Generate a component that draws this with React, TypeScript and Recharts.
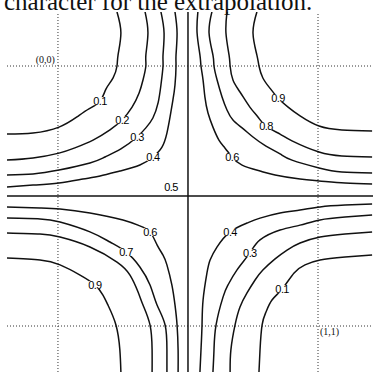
import { LineChart, Line, XAxis, YAxis, ReferenceLine, ReferenceDot, LabelList } from 'recharts';

// Contour levels of the interpolated surface; 0.5 is the cross through the centre.
const levels = [0.1, 0.2, 0.3, 0.4, 0.6, 0.7, 0.8, 0.9];
const crossLevel = 0.5;

// Branches in unit-square coordinates: (0,0) is the upper-left corner, (1,1) the lower-right.
// upper-left branches
const ul1 = [[0.227, -0.208], [0.242, -0.127], [0.231, -0.042], [0.227, 0], [0.212, 0.046], [0.185, 0.088], [0.162, 0.135], [0.119, 0.165], [0.073, 0.196], [0.004, 0.235], [-0.096, 0.258], [-0.196, 0.262]];
const ul2 = [[0.335, -0.208], [0.346, -0.127], [0.338, -0.042], [0.338, 0], [0.327, 0.054], [0.312, 0.104], [0.285, 0.158], [0.246, 0.208], [0.2, 0.246], [0.135, 0.285], [0.065, 0.315], [0.004, 0.335], [-0.096, 0.354], [-0.196, 0.362]];
const ul3 = [[0.396, -0.208], [0.408, -0.127], [0.404, -0.042], [0.404, 0], [0.396, 0.073], [0.385, 0.142], [0.365, 0.2], [0.338, 0.238], [0.304, 0.273], [0.242, 0.319], [0.181, 0.35], [0.123, 0.373], [0.004, 0.4], [-0.096, 0.415], [-0.196, 0.419]];
const ul4 = [[0.45, -0.208], [0.458, -0.127], [0.454, -0.042], [0.454, 0], [0.45, 0.073], [0.442, 0.131], [0.431, 0.196], [0.419, 0.258], [0.4, 0.312], [0.365, 0.35], [0.315, 0.381], [0.238, 0.404], [0.162, 0.423], [0.096, 0.435], [0.004, 0.45], [-0.096, 0.458], [-0.196, 0.465]];
// upper-right branches
const ur6 = [[0.538, -0.208], [0.535, -0.127], [0.546, -0.042], [0.55, 0], [0.558, 0.054], [0.565, 0.119], [0.577, 0.181], [0.596, 0.235], [0.619, 0.285], [0.642, 0.315], [0.669, 0.35], [0.708, 0.381], [0.777, 0.404], [0.835, 0.419], [0.931, 0.435], [1.004, 0.442], [1.104, 0.45], [1.208, 0.454]];
const ur7 = [[0.592, -0.208], [0.581, -0.127], [0.596, -0.042], [0.6, 0], [0.612, 0.054], [0.631, 0.119], [0.65, 0.169], [0.673, 0.208], [0.708, 0.238], [0.75, 0.273], [0.8, 0.308], [0.854, 0.338], [0.9, 0.362], [1.004, 0.392], [1.092, 0.408], [1.208, 0.412]];
const ur8 = [[0.65, -0.208], [0.646, -0.127], [0.658, -0.042], [0.662, 0], [0.673, 0.054], [0.7, 0.1], [0.738, 0.158], [0.769, 0.196], [0.8, 0.231], [0.854, 0.262], [0.9, 0.288], [1.004, 0.331], [1.092, 0.346], [1.208, 0.35]];
const ur9 = [[0.765, -0.208], [0.75, -0.127], [0.765, -0.042], [0.773, 0], [0.788, 0.046], [0.815, 0.085], [0.846, 0.123], [0.885, 0.158], [0.931, 0.192], [1.004, 0.231], [1.092, 0.246], [1.208, 0.25]];
// lower-left branches
const ll6 = [[-0.196, 0.542], [-0.069, 0.546], [0.008, 0.55], [0.123, 0.565], [0.25, 0.592], [0.315, 0.615], [0.354, 0.638], [0.381, 0.688], [0.404, 0.727], [0.419, 0.765], [0.438, 0.842], [0.45, 0.919], [0.458, 0.996], [0.462, 1.092], [0.462, 1.177]];
const ll7 = [[-0.196, 0.585], [-0.069, 0.588], [0.008, 0.6], [0.123, 0.638], [0.2, 0.677], [0.262, 0.715], [0.315, 0.773], [0.354, 0.842], [0.381, 0.919], [0.412, 0.996], [0.419, 1.092], [0.419, 1.177]];
const ll8 = [[-0.196, 0.642], [-0.069, 0.646], [0.008, 0.658], [0.123, 0.696], [0.227, 0.754], [0.277, 0.804], [0.308, 0.869], [0.327, 0.919], [0.354, 0.996], [0.362, 1.092], [0.362, 1.177]];
const ll9 = [[-0.196, 0.738], [-0.069, 0.746], [0.008, 0.765], [0.085, 0.804], [0.142, 0.842], [0.173, 0.881], [0.192, 0.919], [0.223, 0.996], [0.238, 1.092], [0.242, 1.177]];
// lower-right branches
const lr4 = [[1.208, 0.531], [1.104, 0.535], [1.008, 0.542], [0.931, 0.554], [0.854, 0.565], [0.777, 0.585], [0.727, 0.604], [0.662, 0.638], [0.612, 0.696], [0.585, 0.746], [0.573, 0.796], [0.558, 0.9], [0.554, 0.996], [0.55, 1.092], [0.546, 1.177]];
const lr3 = [[1.208, 0.573], [1.104, 0.581], [1.008, 0.592], [0.931, 0.612], [0.854, 0.631], [0.777, 0.669], [0.738, 0.719], [0.688, 0.785], [0.654, 0.842], [0.635, 0.888], [0.608, 0.996], [0.6, 1.092], [0.596, 1.177]];
const lr2 = [[1.208, 0.638], [1.104, 0.646], [1.008, 0.658], [0.931, 0.681], [0.881, 0.708], [0.835, 0.742], [0.788, 0.785], [0.758, 0.823], [0.727, 0.873], [0.7, 0.927], [0.681, 0.996], [0.665, 1.092], [0.662, 1.177]];
const lr1 = [[1.208, 0.727], [1.104, 0.735], [1.008, 0.746], [0.95, 0.765], [0.908, 0.796], [0.862, 0.858], [0.823, 0.9], [0.8, 0.946], [0.785, 0.996], [0.777, 1.092], [0.773, 1.177]];

// which point of a branch carries its level tag (-1: untagged)
const branches = [
  { level: levels[0], pts: ul1, tagAt: 6 },
  { level: levels[1], pts: ul2, tagAt: 7 },
  { level: levels[2], pts: ul3, tagAt: 8 },
  { level: levels[3], pts: ul4, tagAt: 9 },
  { level: levels[4], pts: ur6, tagAt: 10 },
  { level: levels[5], pts: ur7, tagAt: -1 },
  { level: levels[6], pts: ur8, tagAt: 8 },
  { level: levels[7], pts: ur9, tagAt: 6 },
  { level: levels[4], pts: ll6, tagAt: 6 },
  { level: levels[5], pts: ll7, tagAt: 5 },
  { level: levels[6], pts: ll8, tagAt: -1 },
  { level: levels[7], pts: ll9, tagAt: 4 },
  { level: levels[3], pts: lr4, tagAt: 7 },
  { level: levels[2], pts: lr3, tagAt: 6 },
  { level: levels[1], pts: lr2, tagAt: -1 },
  { level: levels[0], pts: lr1, tagAt: 5 },
];

const W = 373;
const H = 372;
const INK = '#111';
const tagFont = "'Liberation Sans', Arial, sans-serif";

function LevelTag(props: any) {
  const { value } = props;
  if (value == null) return null;
  const vb = props.viewBox || {};
  const x = props.x ?? vb.x;
  const y = props.y ?? vb.y;
  return (
    <g>
      <rect x={x - 6} y={y - 4} width={12} height={8} fill="#fff" />
      <text
        x={x}
        y={y}
        textAnchor="middle"
        dominantBaseline="central"
        fontSize={11}
        letterSpacing={-0.6}
        fontFamily={tagFont}
        fill="#000"
      >
        {value}
      </text>
    </g>
  );
}

const cornerLabel = (text: string, dx: number, dy: number, anchor: string) => (props: any) => {
  const vb = props.viewBox || {};
  return (
    <text x={vb.x + dx} y={vb.y + dy} textAnchor={anchor} fontSize={10} fontFamily="'Liberation Serif', serif" fill={INK}>
      {text}
    </text>
  );
};

const CrossTag = (props: any) => {
  const vb = props.viewBox || {};
  return (
    <text x={vb.x - 17} y={vb.y - 9} textAnchor="middle" dominantBaseline="central" fontSize={11} letterSpacing={-0.6} fontFamily={tagFont} fill="#000">
      {crossLevel.toFixed(1)}
    </text>
  );
};

export default function App() {
  const series = branches.map((b) =>
    b.pts.map(([x, y], i) => ({ x, y, tag: i === b.tagAt ? b.level.toFixed(1) : undefined }))
  );

  return (
    <div style={{ position: 'absolute', left: 0, top: 0, width: W, height: H, background: '#fff', overflow: 'hidden' }}>
      <LineChart width={W} height={H} margin={{ top: 12, right: 0, bottom: 0, left: 7 }}>
        <XAxis type="number" dataKey="x" domain={[-0.196, 1.2115]} allowDataOverflow hide />
        <YAxis type="number" dataKey="y" domain={[-0.2077, 1.1769]} allowDataOverflow reversed hide />
        {/* dotted unit square */}
        {[0, 1].map((v) => (
          <ReferenceLine key={`vx${v}`} x={v} stroke="#333" strokeDasharray="1 2" strokeWidth={1} />
        ))}
        {[0, 1].map((v) => (
          <ReferenceLine key={`hy${v}`} y={v} stroke="#333" strokeDasharray="1 2" strokeWidth={1} />
        ))}
        {/* the 0.5 contour is the cross through the centre */}
        <ReferenceLine x={crossLevel} stroke={INK} strokeWidth={1.5} />
        <ReferenceLine y={crossLevel} stroke={INK} strokeWidth={1.5} />
        {series.map((data, i) => (
          <Line
            key={`c${i}`}
            data={data}
            dataKey="y"
            type="natural"
            stroke={INK}
            strokeWidth={1.5}
            dot={false}
            activeDot={false}
            isAnimationActive={false}
          />
        ))}
        {/* second, strokeless pass so the level tags sit above every curve */}
        {series.map((data, i) => (
          <Line
            key={`t${i}`}
            data={data}
            dataKey="y"
            type="natural"
            stroke="none"
            dot={false}
            activeDot={false}
            isAnimationActive={false}
          >
            <LabelList dataKey="tag" content={LevelTag} />
          </Line>
        ))}
        <ReferenceDot x={crossLevel} y={crossLevel} r={0} fill="none" stroke="none" label={CrossTag} />
        <ReferenceDot x={0} y={0} r={0} fill="none" stroke="none" label={cornerLabel('(0,0)', -3, -3, 'end')} />
        <ReferenceDot x={1} y={1} r={0} fill="none" stroke="none" label={cornerLabel('(1,1)', 2, 9, 'start')} />
      </LineChart>
      <svg width={W} height={30} style={{ position: 'absolute', left: 0, top: 0, pointerEvents: 'none' }}>
        <text x={4} y={10} fontSize={25} fontFamily="'Liberation Serif', serif" fill={INK}>
          character for the extrapolation.
        </text>
      </svg>
    </div>
  );
}
